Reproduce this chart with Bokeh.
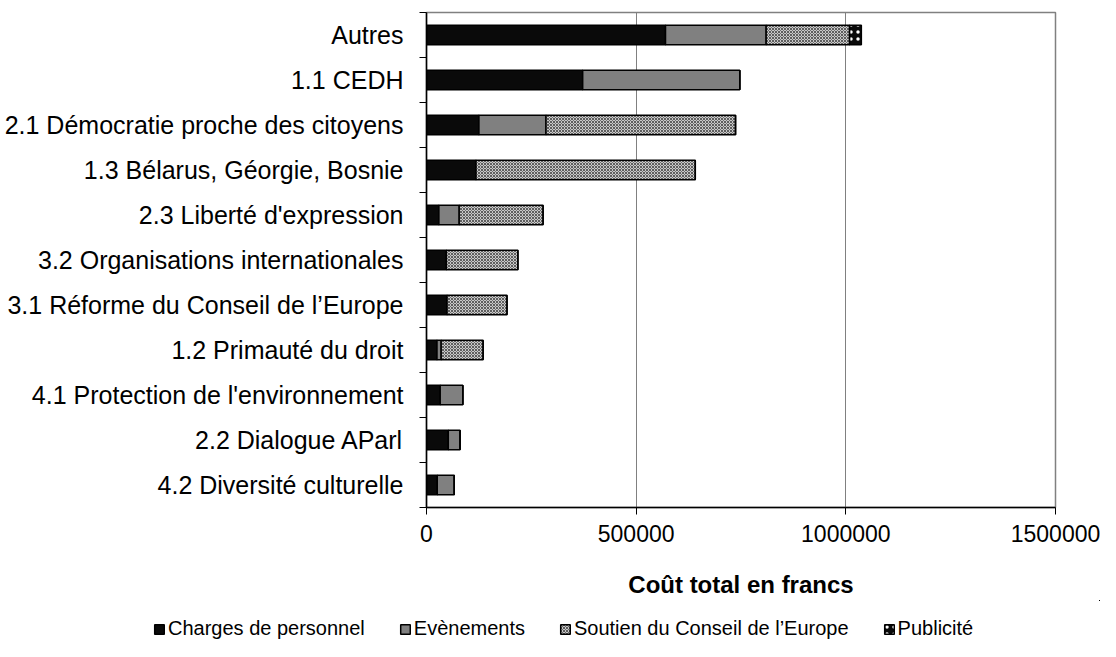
import numpy as np
from bokeh.plotting import figure
from bokeh.layouts import column
from bokeh.models import ColumnDataSource, FixedTicker, Legend, LegendItem, Range1d
from bokeh.embed import file_html
from bokeh.resources import INLINE

categories = ["Autres", "1.1 CEDH", "2.1 Démocratie proche des citoyens",
              "1.3 Bélarus, Géorgie, Bosnie", "2.3 Liberté d'expression",
              "3.2 Organisations internationales", "3.1 Réforme du Conseil de l\u2019Europe",
              "1.2 Primauté du droit", "4.1 Protection de l'environnement",
              "2.2 Dialogue AParl", "4.2 Diversité culturelle"]
charges = [570000, 372500, 125000, 118000, 29500, 47500, 49000, 25000, 32700, 52000, 25700]
evenements = [240000, 374500, 160000, 0, 48500, 0, 0, 10000, 53800, 28000, 40500]
soutien = [199000, 0, 452000, 523000, 200000, 170500, 143000, 100000, 0, 0, 0]
publicite = [28000, 0, 0, 0, 0, 0, 0, 0, 0, 0, 0]
series_names = ["Charges de personnel", "Evènements", "Soutien du Conseil de l\u2019Europe", "Publicité"]
x_ticks = [0, 500000, 1000000, 1500000]
x_tick_labels = ["0", "500000", "1000000", "1500000"]
x_title = "Coût total en francs"

FONT = "Liberation Sans"
n = len(categories)
ypos = [n - 0.5 - i for i in range(n)]

W = 1100
H1 = 600
p = figure(width=W, height=H1, output_backend="svg", toolbar_location=None,
           x_range=Range1d(0, 1500000), y_range=Range1d(0, n),
           min_border_left=426, min_border_top=12, min_border_right=45,
           min_border_bottom=H1 - 507)
p.background_fill_color = "white"
p.border_fill_color = "white"
p.outline_line_color = "#808080"
p.outline_line_width = 1.5

series = [charges, evenements, soutien, publicite]
styles = [
    dict(fill_color="#0a0a0a"),
    dict(fill_color="#808080"),
    dict(fill_color="#c8c8c8", hatch_pattern="diagonal_cross", hatch_scale=3,
         hatch_color="#5e5e5e", hatch_weight=1),
    dict(fill_color="#0a0a0a", hatch_pattern="dot", hatch_scale=7,
         hatch_color="white", hatch_weight=2),
]
left = np.zeros(n)
sources = []
renderers = []
for vals, st in zip(series, styles):
    v = np.array(vals, dtype=float)
    src = ColumnDataSource(dict(y=ypos, left=left.copy(), right=left + v))
    sources.append(src)
    r = p.hbar(y="y", left="left", right="right", height=0.43, source=src,
               line_color="black", line_width=1.5, **st)
    renderers.append(r)
    left = left + v

# axes
yax = p.yaxis[0]
yax.ticker = FixedTicker(ticks=ypos, minor_ticks=list(range(n + 1)))
yax.major_label_overrides = {y: c for y, c in zip(ypos, categories)}
yax.major_tick_line_color = None
yax.minor_tick_out = 7
yax.minor_tick_in = 0
yax.minor_tick_line_color = "black"
yax.axis_line_color = "black"
yax.axis_line_width = 1.5
yax.major_label_standoff = 16
yax.major_label_text_font = FONT
yax.major_label_text_font_size = "25px"
yax.major_label_text_color = "black"

xax = p.xaxis[0]
xax.ticker = FixedTicker(ticks=x_ticks, minor_ticks=[])
xax.major_label_overrides = {t: l for t, l in zip(x_ticks, x_tick_labels)}
xax.major_tick_out = 7
xax.major_tick_in = 0
xax.major_tick_line_color = "black"
xax.axis_line_color = "black"
xax.axis_line_width = 1.5
xax.major_label_standoff = 10
xax.major_label_text_font = FONT
xax.major_label_text_font_size = "23px"
xax.major_label_text_color = "black"
xax.axis_label = x_title
xax.axis_label_text_font = FONT
xax.axis_label_text_font_size = "24px"
xax.axis_label_text_font_style = "bold"
xax.axis_label_text_color = "black"
xax.axis_label_standoff = 26

p.ygrid.grid_line_color = None
p.xgrid.ticker = FixedTicker(ticks=x_ticks[1:-1])
p.xgrid.grid_line_color = "#808080"
p.xgrid.grid_line_width = 1

# legend strip (own figure, frame not aligned with the chart's frame)
H2 = 41
p2 = figure(width=W, height=H2, output_backend="svg", toolbar_location=None,
            x_axis_type=None, y_axis_type=None,
            x_range=Range1d(-2, -1), y_range=Range1d(-2, -1),
            min_border=0, outline_line_color=None)
p2.frame_align = False
p2.background_fill_color = "white"
p2.border_fill_color = "white"
leg_renderers = []
for src, st in zip(sources, styles):
    leg_renderers.append(p2.hbar(y="y", left="left", right="right", height=0.43, source=src,
                                 line_color="black", line_width=1.5, **st))

legend = Legend(items=[LegendItem(label=nm, renderers=[r]) for nm, r in zip(series_names, leg_renderers)],
                orientation="horizontal", location=(153, 1),
                glyph_width=12, glyph_height=12, label_standoff=3, spacing=34,
                padding=0, margin=0, border_line_color=None, background_fill_alpha=0,
                label_text_font=FONT, label_text_font_size="20px", label_text_color="black")
p2.add_layout(legend, "center")

layout = column(p, p2, spacing=0)
open("out.html", "w").write(file_html(layout, INLINE))
